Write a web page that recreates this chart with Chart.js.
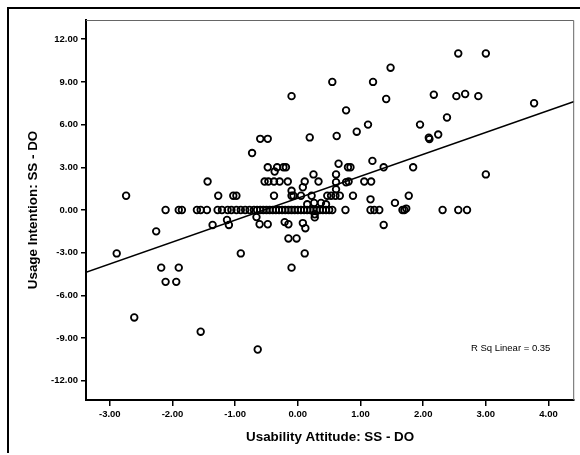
<!DOCTYPE html>
<html>
<head>
<meta charset="utf-8">
<script src="https://cdn.jsdelivr.net/npm/chart.js@4/dist/chart.umd.min.js"></script>
<style>
	html, body { margin: 0; padding: 0; background: #fff; }
	canvas { display: block; }
</style>
</head>
<body>
<canvas id="scatter" width="580" height="455"></canvas>
<script>
// usability attitude (x) against usage intention (y), SS - DO differences
const attitude = [
	2.56, 3.0, 1.48, 0.55, 1.2, -0.1, 1.41, 2.17, 2.53, 2.67, 2.88, 3.77
	, 0.77, 2.38, 1.95, 1.12, 0.19, 0.62, 0.94, 2.09, 2.1, 2.24, -0.6, -0.48, -0.73
	, 3.0, 1.84, 1.37, 1.19, 0.8, 0.84, 0.65, -0.48, -0.37, -0.33, -0.23, -0.19
	, 0.61, 0.25
	, -1.44, -0.53, -0.47, -0.38, -0.29, -0.16, 0.11, 0.33, 0.61, 0.77, 0.81, 1.06, 1.17
	, 0.08, -0.1, 0.61
	, -2.74, -1.27, -1.03, -0.98, -0.38, -0.1, -0.07, 0.05, 0.22, 0.47, 0.53, 0.6, 0.67, 0.88, 1.77
	, 1.16, 1.55, 0.15, 0.26, 0.37, 0.45, 1.73, 0.27
	, -2.11, -1.9, -1.85, -1.61, -1.55, -1.45, -1.28, -1.21, -1.12, -1.06, -0.98, -0.91, -0.84, -0.77, -0.7, -0.65, -0.6
	, -0.55, -0.5, -0.45, -0.4, -0.35, -0.3, -0.25, -0.2, -0.15, -0.1, -0.05, 0.0, 0.05, 0.1, 0.15, 0.2, 0.25, 0.3, 0.35, 0.4, 0.45, 0.5, 0.55
	, 0.76, 1.16, 1.22, 1.3, 1.67, 1.7, 2.31, 2.56, 2.7
	, -2.26, -1.36, -1.13, -1.1, -0.66, -0.61, -0.48, -0.21, -0.15, 0.08, 0.12, 0.27, 1.37
	, -0.15, -0.02, 0.11, -0.1, -0.91, -2.89, -2.18, -1.9, -2.11, -1.94, -2.61, -1.55, -0.64
];
const intention = [
	11, 11, 10, 9, 9, 8, 7.8, 8.1, 8, 8.15, 8, 7.5
	, 7, 6.5, 6, 6, 5.1, 5.2, 5.5, 5.08, 4.98, 5.3, 5, 5, 4
	, 2.5, 3, 3, 3.45, 3, 3, 3.25, 3, 2.7, 3, 3, 3
	, 2.5, 2.5
	, 2, 2, 2, 2, 2, 2, 2, 2, 1.95, 1.95, 2, 2, 2
	, 1.6, 1.35, 1.45
	, 1, 1, 1, 1, 1, 1, 1, 1, 1, 1, 1, 1, 1, 1, 1
	, 0.75, 0.5, 0.4, 0.5, 0.5, 0.4, 0.1, -0.3
	, 0, 0, 0, 0, 0, 0, 0, 0, 0, 0, 0, 0, 0, 0, 0, 0, 0
	, 0, 0, 0, 0, 0, 0, 0, 0, 0, 0, 0, 0, 0, 0, 0, 0, 0, 0, 0, 0, 0, 0, 0
	, 0, 0, 0, 0, 0, 0, 0, 0, 0
	, -1.5, -1.05, -0.7, -1.05, -0.5, -1.0, -1.0, -0.85, -1.0, -0.92, -1.28, -0.52, -1.05
	, -2, -2, -3.05, -4.05, -3.05, -3.05, -4.05, -4.05, -5.05, -5.05, -7.55, -8.55, -9.8
];

// fitted linear trend
const fitSlope = 1.54;
const fitIntercept = 0.83;
const rSquared = 0.35;

// axis ranges and tick values
const xRange = [-3.38, 4.41];
const yRange = [-13.35, 13.35];
const xTicks = [-3, -2, -1, 0, 1, 2, 3, 4];
const yTicks = [-12, -9, -6, -3, 0, 3, 6, 9, 12];

const points = attitude.map((x, i) => ({ x: x, y: intention[i] }));
const fitLine = xRange.map(x => ({ x: x, y: fitIntercept + fitSlope * x }));

const tickFont = { family: "'Liberation Sans', Arial, sans-serif", size: 9.5, weight: "bold" };
const titleFont = { family: "'Liberation Sans', Arial, sans-serif", size: 13.4, weight: "bold" };

// page frame, thin top/right box edges and the R squared note
const framePlugin = {
	id: "frame"
	, afterDraw(chart) {
		const { ctx, chartArea: a } = chart;
		ctx.save();
		ctx.strokeStyle = "#000";
		ctx.lineWidth = 2;
		ctx.beginPath();
		ctx.moveTo(8, 453);
		ctx.lineTo(8, 8);
		ctx.lineTo(580, 8);
		ctx.stroke();

		ctx.lineWidth = 1;
		ctx.strokeStyle = "#666";
		ctx.beginPath();
		ctx.moveTo(a.left, a.top + 0.5);
		ctx.lineTo(a.right - 0.5, a.top + 0.5);
		ctx.lineTo(a.right - 0.5, a.bottom);
		ctx.stroke();

		ctx.fillStyle = "#000";
		ctx.font = "9.5px 'Liberation Sans', Arial, sans-serif";
		ctx.textAlign = "right";
		ctx.textBaseline = "middle";
		ctx.fillText("R Sq Linear = " + rSquared.toFixed(2)
			, chart.scales.x.getPixelForValue(4.03)
			, chart.scales.y.getPixelForValue(-9.7));
		ctx.restore();
	}
};

new Chart(document.getElementById("scatter"), {
	type: "scatter"
	, data: {
		datasets: [{
			data: points
			, pointRadius: 3.3
			, pointBorderWidth: 1.8
			, pointBorderColor: "#000"
			, pointBackgroundColor: "rgba(255,255,255,0)"
		}
		, {
			type: "line"
			, data: fitLine
			, borderColor: "#000"
			, borderWidth: 1.4
			, pointRadius: 0
			, fill: false
		}]
	}
	, options: {
		responsive: false
		, animation: false
		, layout: { padding: { left: 8, top: 20, right: 5, bottom: 0 } }
		, plugins: {
			legend: { display: false }
			, tooltip: { enabled: false }
		}
		, scales: {
			x: {
				type: "linear"
				, min: xRange[0]
				, max: xRange[1]
				, afterFit: scale => { scale.height = 55; }
				, afterBuildTicks: scale => { scale.ticks = xTicks.map(v => ({ value: v })); }
				, border: { display: true, color: "#000", width: 2 }
				, grid: { drawOnChartArea: false, drawTicks: true, tickLength: 6, color: "#000", lineWidth: 1.5 }
				, ticks: {
					color: "#000"
					, font: tickFont
					, padding: 3
					, maxRotation: 0
					, callback: v => Number(v).toFixed(2)
				}
				, title: {
					display: true
					, text: "Usability Attitude: SS - DO"
					, color: "#000"
					, font: titleFont
					, padding: { top: 0, bottom: 10 }
				}
			}
			, y: {
				type: "linear"
				, min: yRange[0]
				, max: yRange[1]
				, afterFit: scale => { scale.width = 78; }
				, afterBuildTicks: scale => { scale.ticks = yTicks.map(v => ({ value: v })); }
				, border: { display: true, color: "#000", width: 2 }
				, grid: { drawOnChartArea: false, drawTicks: true, tickLength: 5, color: "#000", lineWidth: 1.5 }
				, ticks: {
					color: "#000"
					, font: tickFont
					, padding: 3
					, callback: v => Number(v).toFixed(2)
				}
				, title: {
					display: true
					, text: "Usage Intention: SS - DO"
					, color: "#000"
					, font: titleFont
					, padding: { top: 17, bottom: 0 }
				}
			}
		}
	}
	, plugins: [framePlugin]
});
</script>
</body>
</html>
